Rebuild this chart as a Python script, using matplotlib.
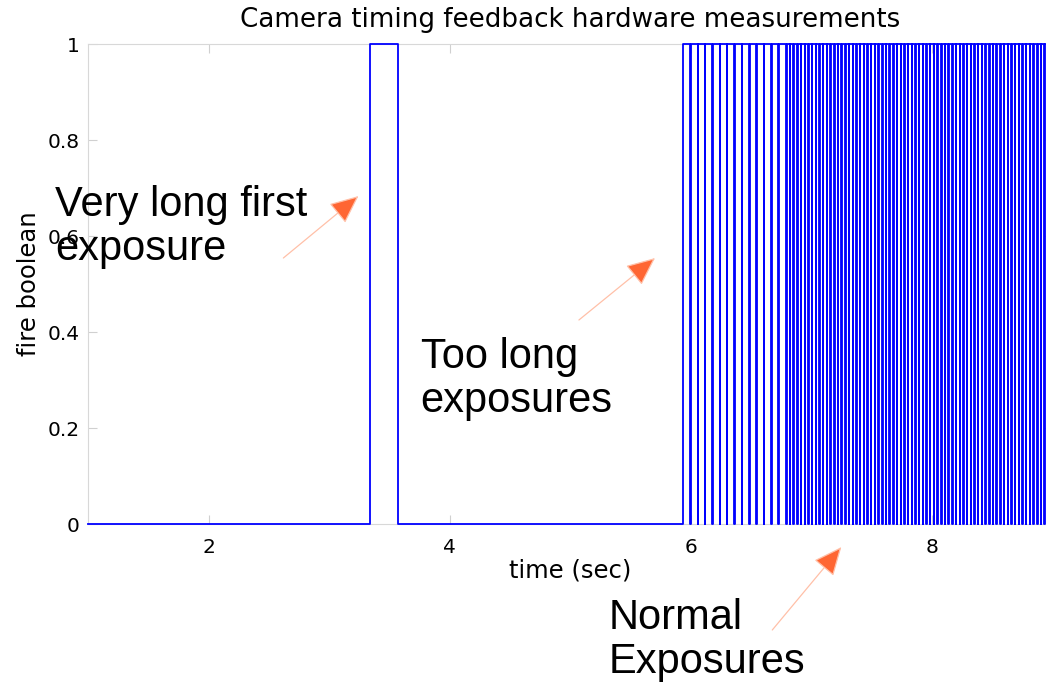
"""Camera fire-signal trace with annotated exposure phases."""
import matplotlib.pyplot as plt
import numpy as np

# Fire line timing (s). The line sits low until the first exposure, then
# stays high from the start of the burst with short drops between frames.
first_exposure_on, first_exposure_off = 3.336, 3.566
burst_on = 5.931
frame_gaps = [5.992, 6.053, 6.114, 6.175, 6.236, 6.297, 6.358, 6.419,
              6.480, 6.541, 6.602, 6.663, 6.724,
              6.787, 6.818, 6.848, 6.879, 6.909, 6.940, 6.971, 7.001,
              7.032, 7.062, 7.093, 7.124, 7.154, 7.185, 7.215, 7.246,
              7.277, 7.307, 7.338, 7.368, 7.399, 7.430, 7.460, 7.491,
              7.521, 7.552, 7.583, 7.613, 7.644, 7.674, 7.705, 7.736,
              7.766, 7.797, 7.827, 7.858, 7.889, 7.919, 7.950, 7.980,
              8.011, 8.042, 8.072, 8.103, 8.133, 8.164, 8.195, 8.225,
              8.256, 8.286, 8.317, 8.348, 8.378, 8.409, 8.439, 8.470,
              8.501, 8.531, 8.562, 8.592, 8.623, 8.654, 8.684, 8.715,
              8.745, 8.776, 8.807, 8.837, 8.868, 8.898, 8.929, 8.960,
              8.990]
gap_length = 0.004
t_start, t_end = 1.0, 9.0

x_ticks = [2, 4, 6, 8]
y_ticks = [0, 0.2, 0.4, 0.6, 0.8, 1]
y_tick_labels = ["0", "0.2", "0.4", "0.6", "0.8", "1"]

# build the square wave with explicit vertical edges
xs = [t_start, first_exposure_on, first_exposure_on,
      first_exposure_off, first_exposure_off, burst_on, burst_on]
ys = [0, 0, 1, 1, 0, 0, 1]
for g in frame_gaps:
    xs += [g, g, g + gap_length, g + gap_length]
    ys += [1, 0, 0, 1]
xs.append(t_end)
ys.append(1)

fig = plt.figure(figsize=(10.46, 6.82), dpi=100)
ax = fig.add_axes([88 / 1046, 158 / 682, 965 / 1046, 480 / 682])

ax.plot(xs, ys, color="#0000ff", linewidth=1.3, clip_on=False, zorder=3)

ax.set_xlim(t_start, t_end)
ax.set_ylim(0, 1)
ax.set_xticks(x_ticks)
ax.set_xticklabels([str(v) for v in x_ticks])
ax.set_yticks(y_ticks)
ax.set_yticklabels(y_tick_labels)
ax.tick_params(direction="in", length=6.5, color="#d0d0d0", labelsize=14.5,
               top=True, right=True)
ax.tick_params(axis="x", pad=10)
ax.tick_params(axis="y", pad=6)
for sp in ax.spines.values():
    sp.set_color("#d8d8d8")

ax.set_title("Camera timing feedback hardware measurements", fontsize=18.8,
             pad=12)
ax.set_xlabel("time (sec)", fontsize=17.5, labelpad=1)
ax.set_ylabel("fire boolean", fontsize=17.5, labelpad=5)


def px(x, y):
    # pixel position on the canvas -> data coords of this axes
    return 1 + (x - 88) / 120.4, (524 - y) / 480


note_font = dict(family="Liberation Sans", fontsize=30, color="black",
                 linespacing=1.12, va="top", ha="left")
ax.text(*px(55, 185), "Very long first\nexposure", clip_on=False, **note_font)
ax.text(*px(420, 337), "Too long\nexposures", clip_on=False, **note_font)
ax.text(*px(608, 598), "Normal\nExposures", clip_on=False, **note_font)

arrows = [((283, 258), (358, 196)),
          ((578, 320), (654, 258)),
          ((771, 630), (840, 547))]
for tail, tip in arrows:
    ax.annotate("", xy=px(*tip), xytext=px(*tail), annotation_clip=False,
                arrowprops=dict(arrowstyle="-|>,head_length=0.9,head_width=0.4",
                                mutation_scale=20, lw=0.9,
                                ec="#ffc0a8", fc="#ff6633",
                                shrinkA=0, shrinkB=0))

fig.savefig("out.png", dpi=100)
